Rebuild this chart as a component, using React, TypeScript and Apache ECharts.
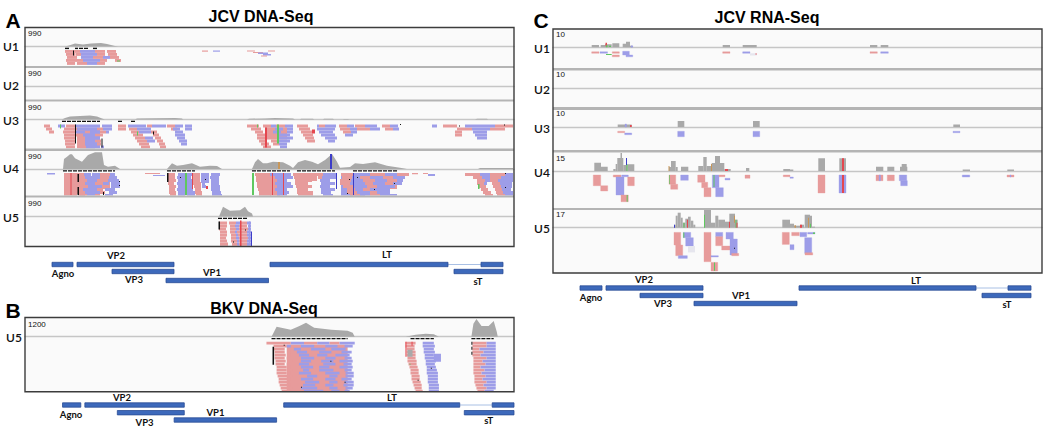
import React, { useEffect, useRef } from "react";
import * as echarts from "echarts";

// ---- read colours: index used as last element of each mark
const P = 0, B = 1, K = 2, G = 3, R = 4, W = 5, Y = 6, O = 7, D = 8;
const COLORS = ["#e79b9b", "#9d9de8", "#111111", "#5fc85f", "#e4474f", "#e6e6ee", "#a9a9a9", "#c8975a", "#3c3cc8"];

// ---- Panel A, JCV DNA-Seq. x = position along the genome, y = coverage / pile-up depth
const aU1Cov = [[40, 0], [44, 1], [50, 3], [58, 2], [66, 3], [76, 3.5], [82, 2.5], [86, 1.5], [90, 0.5], [93, 0]];
const aU1Dash = [[40, 44], [50, 53], [54, 63], [68, 73]];
const aU1Pink = [
  [3.5, 40, 55, 70, 80, 82, 91], [6.5, 41, 50, 50.5, 56, 72, 80, 83, 92], [9.5, 42, 52, 68, 78, 85, 94],
  [12.5, 41, 58, 75, 82, 90, 96], [15.5, 42, 50, 52, 62, 72, 80],
];
const aU1Blue = [[3.5, 55, 70], [6.5, 56, 72], [9.5, 56, 68, 78, 85], [12.5, 58, 75], [15.5, 62, 72]];
const aU1Marks = [
  [48, 49, 4, 9, K], [92, 95, 14, 15, G], [177, 183, 4, 5.2, P], [188, 195, 4, 5.2, B], [222, 230, 4, 5, P],
  [228, 238, 5.5, 6.5, P], [233, 243, 6, 7.5, B], [238, 246, 7.5, 9, B], [236, 242, 9, 10, P], [243, 250, 4, 5, P],
];

const aU3Cov = [
  [37, 0], [40, 1.5], [45, 3], [55, 3.5], [65, 4], [72, 3], [77, 1], [80, 0], [110, 0], [112, 1], [150, 1.5], [157, 1], [158, 0],
  [222, 0], [224, 0.8], [240, 1], [250, 1.5], [268, 1], [270, 0], [275, 0], [276, 0.7], [288, 0.7], [289, 0], [298, 0], [299, 0.8],
  [308, 0.8], [309, 0], [318, 0], [319, 0.5], [323, 0.5], [324, 0], [450, 0], [452, 0.8], [462, 0.8], [463, 0],
];
const aU3Dash = [[37, 75], [93, 97], [106, 110]];
const aU3Fill = [[52, 60, 8, 29, P], [60, 75, 8, 29, B], [240, 262, 8, 20, P]];
const aU3Pink = [
  [5, 19, 25, 41, 50, 93, 101, 122, 127, 142, 150, 222, 234, 238, 246, 251, 260, 272, 283, 294, 300, 314, 322, 330, 340, 357, 365, 418, 432, 470, 488],
  [8, 21, 27, 39, 52, 72, 78, 93, 101, 104, 112, 146, 152, 226, 236, 240, 250, 258, 262, 274, 285, 315, 325, 332, 345, 360, 368, 432, 447, 465, 480],
  [11, 24, 29, 38, 50, 60, 65, 75, 81, 106, 114, 126, 132, 230, 238, 242, 248, 256, 262, 276, 287, 318, 326, 430, 437],
  [14, 39, 52, 53, 58, 70, 78, 108, 118, 128, 134, 232, 240, 246, 252, 278, 288, 430, 437],
  [17, 39, 51, 53, 60, 110, 120, 130, 136, 232, 242, 280, 289],
  [20, 40, 50, 53, 60, 70, 76, 112, 122, 132, 138, 234, 241, 246, 254, 282, 290],
  [23, 40, 50, 55, 60, 72, 76, 114, 124, 134, 140, 236, 244, 248, 254],
  [26, 41, 50, 55, 61, 116, 125, 135, 141, 238, 246],
];
const aU3Blue = [
  [5, 33, 40, 50, 75, 77, 87, 103, 121, 127, 141, 150, 158, 160, 167, 246, 251, 260, 268, 292, 294, 300, 311, 322, 329, 340, 352, 365, 373, 407, 412, 440, 470],
  [8, 52, 72, 78, 87, 112, 126, 148, 155, 160, 167, 250, 258, 262, 268, 292, 310, 325, 332, 345, 355, 368, 374, 447, 465],
  [11, 50, 60, 65, 75, 81, 84, 114, 126, 150, 158, 248, 256, 262, 268, 294, 308, 326, 332, 448, 462],
  [14, 58, 70, 150, 160, 252, 265, 296, 310, 320, 328, 450, 462],
  [17, 60, 75, 120, 128, 152, 160, 252, 268, 300, 312, 452, 462],
  [20, 60, 70, 122, 130, 154, 162, 254, 265, 303, 310],
  [23, 60, 72, 156, 162, 254, 262],
  [26, 61, 70, 76, 79, 255, 262],
];
const aU3Marks = [
  [50, 51, 5, 24, K], [76.5, 77.5, 19, 28, K], [35, 36, 5, 9, G], [240, 242, 8, 28, R], [252, 254, 5, 24, G], [375, 376, 4.5, 5.5, K],
  [434, 435, 6, 7, K], [479, 480, 5, 6, K], [232, 233, 5, 8, G], [112, 113, 12, 16, G], [128, 129, 12, 15, K], [287, 290, 10, 14, R],
];

const aU4Cov = [
  [38, 0], [39, 10], [42, 12.3], [45, 14.7], [47, 14.7], [50, 10.7], [57, 7.3], [63, 14], [70, 16.7], [77, 16.7], [79, 4], [83, 2.3], [90, 3.3], [95, 0],
  [142, 0], [147, 5.7], [152, 3.3], [158, 4], [167, 5.7], [175, 2.3], [185, 3.3], [192, 3], [197, 0],
  [227, 0], [230, 6.7], [233, 10], [238, 5.7], [242, 5.7], [248, 7.3], [258, 6.7], [265, 3.3], [268, 1], [273, 6.7], [280, 9], [287, 7.3],
  [293, 4.7], [300, 9], [307, 15], [312, 7.3], [315, 1.3], [325, 2], [330, 5.7], [338, 5], [350, 6.7], [362, 3.3], [375, 1.3], [382, 0],
  [453, 0], [455, 1], [488, 1],
];
const aU4Dash = [[38, 90], [142, 170], [227, 265], [272, 310], [328, 372]];
const aU4Fill = [
  [53, 60, 4, 27, P], [75, 85, 4, 20, P], [176, 184, 4, 14, B], [245, 255, 4, 27, P], [285, 292, 4, 12, P],
  [316, 340, 4, 27, B], [340, 372, 4, 20, P],
];
const aU4Pink = [
  [4, 39, 53, 54, 59, 75, 85, 143, 150, 167, 175, 230, 245, 268, 285, 292, 298, 316, 328, 345, 360, 372, 384, 440, 455, 465, 480],
  [7, 39, 53, 55, 60, 76, 83, 143, 150, 167, 175, 231, 247, 269, 286, 293, 297, 317, 327, 335, 345, 358, 368, 448, 457, 465, 476],
  [10, 39, 53, 56, 62, 72, 80, 143, 151, 168, 175, 231, 248, 270, 287, 315, 326, 338, 350, 362, 372, 452, 460, 465, 473],
  [13, 39, 53, 70, 76, 143, 149, 168, 176, 232, 246, 270, 283, 315, 325, 340, 348, 360, 368, 452, 459, 467, 475],
  [16, 39, 53, 56, 63, 77, 82, 144, 151, 169, 176, 232, 248, 271, 287, 318, 328, 342, 352, 453, 461, 468, 476],
  [19, 39, 53, 72, 78, 144, 150, 170, 176, 233, 246, 272, 283, 322, 330, 338, 345, 456, 463, 470, 477],
  [22, 39, 53, 55, 60, 75, 80, 144, 151, 170, 177, 234, 248, 272, 288, 322, 332, 345, 352, 458, 466, 471, 478],
  [25, 39, 52, 55, 62, 70, 75, 145, 151, 171, 177, 234, 246, 273, 288, 325, 335, 345, 355, 460, 468, 472, 480],
];
const aU4Blue = [
  [4, 59, 66, 67, 75, 85, 90, 153, 160, 162, 167, 176, 183, 186, 195, 245, 266, 298, 312, 328, 345, 360, 372, 455, 465, 480, 488],
  [7, 60, 75, 84, 92, 152, 160, 162, 166, 176, 181, 185, 194, 250, 268, 297, 312, 328, 335, 345, 358, 368, 380, 457, 465, 476, 488],
  [10, 62, 72, 83, 94, 153, 160, 162, 167, 176, 180, 186, 194, 252, 262, 295, 305, 326, 338, 350, 362, 372, 378, 460, 465, 473, 488],
  [13, 60, 70, 78, 84, 86, 95, 152, 160, 162, 168, 177, 180, 186, 194, 250, 266, 296, 310, 328, 340, 348, 360, 368, 377, 459, 462, 475, 487],
  [16, 63, 77, 86, 95, 153, 160, 162, 168, 177, 181, 186, 195, 252, 268, 295, 305, 328, 342, 352, 370, 476, 487],
  [19, 58, 72, 80, 90, 152, 160, 162, 168, 186, 195, 250, 262, 296, 310, 330, 338, 345, 365, 477, 486],
  [22, 60, 75, 84, 92, 153, 160, 162, 170, 187, 196, 252, 264, 296, 306, 332, 345, 352, 365, 478, 488],
  [25, 62, 70, 80, 88, 153, 160, 162, 170, 187, 197, 252, 262, 298, 308, 335, 345, 355, 372, 480, 488],
];
const aU4Marks = [
  [22, 30, 4, 5.5, B], [120, 135, 4, 5, P], [128, 140, 6, 7, B], [52.5, 54, 5, 13, K], [52.5, 54, 18, 26, K], [45.5, 46.5, 4, 26, R],
  [78, 79, 23, 26, K], [94, 95, 12, 13, K], [94, 95, 16, 17, K], [142, 143.5, 4, 13, K], [160, 162, 4, 26, G], [167, 168, 4, 20, R],
  [180, 181, 10, 11, K], [155, 156, 8, 9, K], [181, 183, 17, 20, R], [227, 229, 4, 26, G], [247, 248, 4, 26, R], [258, 259, 4, 26, R],
  [311, 312, 4, 20, D], [324, 325, 10, 11, K], [332, 333, 8, 9, K], [322, 323, 24, 25, K], [349, 350, 20, 21, K], [369, 370, 14, 15, K],
  [328, 329, 4, 26, D], [387, 393, 4, 5.2, P], [398, 403, 4, 5, P], [403, 410, 5, 7, B], [480, 481, 4, 5, K], [480, 481, 18, 19, K],
  [453, 454.5, 15, 20, G], [305, 307, -15, 0, D], [253, 255, -7, 0, O],
];

const aU5Cov = [[194, 0], [198, 9.7], [205, 5.7], [215, 6.3], [220, 9.7], [223, 5.3], [227, 3], [228, 0]];
const aU5Dash = [[193, 222]];
const aU5Pink = [
  [5, 194, 202, 204, 211, 216, 222], [8, 194, 202, 205, 210, 214, 222], [11, 194, 201, 205, 211, 214, 223], [14, 195, 202, 205, 210, 212, 222],
  [17, 195, 202, 206, 211, 213, 222], [20, 195, 201, 206, 211, 214, 223], [23, 195, 202, 206, 212, 214, 222], [26, 195, 203, 207, 212, 214, 222], [29, 195, 203, 207, 213, 215, 222],
];
const aU5Blue = [
  [5, 211, 216, 222, 226], [8, 210, 214, 223, 226], [11, 211, 214, 223, 226], [14, 210, 212, 222, 226], [17, 211, 213, 222, 226],
  [20, 211, 214, 223, 227], [23, 212, 214, 222, 227], [26, 212, 214, 222, 227], [29, 213, 215, 222, 227],
];
const aU5Marks = [
  [193.5, 195, 5, 13, K], [224, 225, 5, 28, B], [226, 227, 15, 29.5, D], [215, 216.5, 4, 29.5, R], [220, 221, 13, 14, K], [208, 209, 25, 26, K],
];

// ---- Panel B, BKV DNA-Seq
const bU5Cov = [
  [243, 0], [248, 10], [262, 7], [270, 10.5], [277, 14], [285, 9], [302, 7], [318, 6], [323, 4], [325, 0],
  [375, 0], [385, 2], [395, 3], [403, 2.5], [408, 0], [440, 0], [442, 13], [445, 17.7], [450, 10.7], [457, 10.7], [462, 15.7], [465, 5], [466, 0],
];
const bU5Dash = [[243, 318], [380, 403], [440, 462]];
const bU5Fill = [[258, 318, 8, 55, P]];
const bU5Pink = [
  [5, 238, 262, 275, 288, 300, 310, 375, 385, 441, 455], [8, 245, 258, 262, 272, 285, 296, 308, 315, 375, 384, 441, 455],
  [11, 245, 256, 260, 265, 272, 282, 296, 302, 376, 384, 441, 448], [14, 246, 256, 262, 268, 278, 290, 302, 312, 376, 385, 441, 452],
  [17, 246, 257, 262, 270, 280, 288, 298, 306, 376, 385, 441, 449], [20, 246, 256, 258, 272, 285, 296, 306, 315, 377, 385, 442, 455],
  [23, 247, 257, 264, 272, 282, 292, 304, 310, 377, 386, 442, 451], [26, 247, 256, 258, 270, 280, 294, 306, 314, 378, 386, 442, 454],
  [29, 248, 258, 262, 272, 284, 290, 300, 310, 379, 387, 442, 449], [32, 248, 258, 264, 274, 280, 290, 304, 315, 380, 388, 442, 453],
  [35, 248, 258, 262, 270, 282, 296, 310, 316, 380, 388, 442, 450], [38, 249, 259, 264, 278, 288, 300, 308, 316, 381, 389, 443, 454],
  [41, 250, 259, 262, 272, 284, 296, 306, 312, 381, 389, 443, 451], [44, 250, 260, 266, 276, 290, 300, 308, 315, 382, 390, 443, 455],
  [47, 251, 260, 262, 274, 286, 296, 304, 314, 383, 391, 444, 452], [50, 252, 261, 264, 272, 288, 300, 308, 316, 384, 391, 445, 455],
  [53, 253, 262, 268, 275, 294, 302, 310, 315, 385, 392, 446, 453],
];
const bU5Blue = [
  [5, 262, 275, 288, 300, 310, 325, 392, 403, 455, 464], [8, 258, 262, 272, 285, 296, 308, 315, 323, 392, 404, 455, 464],
  [11, 265, 272, 282, 296, 302, 316, 393, 403, 448, 464], [14, 268, 278, 290, 302, 312, 322, 393, 404, 452, 464],
  [17, 270, 280, 288, 298, 306, 320, 394, 403, 449, 464], [20, 272, 285, 296, 306, 315, 322, 394, 405, 455, 464],
  [23, 272, 282, 292, 304, 310, 323, 395, 405, 451, 464], [26, 270, 280, 294, 306, 314, 322, 395, 404, 454, 464],
  [29, 272, 284, 290, 300, 310, 323, 396, 405, 449, 464], [32, 274, 280, 290, 304, 315, 322, 396, 406, 453, 464],
  [35, 270, 282, 296, 310, 316, 324, 396, 407, 450, 464], [38, 278, 288, 300, 308, 316, 324, 397, 407, 454, 464],
  [41, 272, 284, 296, 306, 312, 322, 397, 407, 451, 464], [44, 276, 290, 300, 308, 315, 324, 397, 407, 455, 464],
  [47, 274, 286, 296, 304, 314, 324, 398, 408, 452, 464], [50, 272, 288, 300, 308, 316, 323, 398, 408, 455, 464],
  [53, 275, 294, 302, 310, 315, 320, 398, 408, 453, 462],
];
const bU5Marks = [
  [244, 245.5, 10, 28, K], [377, 382, 13, 20, Y], [379, 380, 27, 28, G], [387, 388, 43, 44, K], [400, 401, 31, 32, K], [403, 410, 17, 25, B],
  [375, 376, 5, 20, R], [440, 441, 5, 8, K], [440, 441, 10, 13, K], [440, 441, 15, 18, K], [255, 256, 8, 9, K], [301, 302, 24, 25, K], [315, 316, 45, 46, K],
  [272, 273, 50, 51, K], [381, 382, 5, 9, R],
];

// ---- Panel C, JCV RNA-Seq: coverage [from, to, height], reads [from, to, top, bottom, colour]
const cU1Cov = [
  [38.7, 46, 2.3], [47.7, 52, 2.3], [52, 58.7, 3], [59.3, 66.3, 4], [69.7, 73, 3.5], [73, 77, 5.5], [77, 79.7, 1.5],
  [169.7, 177, 2.3], [189.7, 203.7, 2.3], [317, 324.3, 2.3], [327.7, 335.3, 2.3],
];
const cU1Marks = [
  [52.5, 54, -4.5, -1, R], [53, 54.5, -2, 0, G], [56, 58, -1.5, -0.3, G], [78, 79.7, -1.5, 0, B],
  [38.7, 46, 4.5, 6, P], [47, 54.5, 4.5, 6, B], [53, 58.7, 6.7, 7.7, G], [59.3, 66.3, 4.5, 6, P], [59.3, 66.3, 7.7, 9.5, P],
  [69.7, 76.3, 4, 7.7, B], [73, 79.7, 7.7, 9.5, B], [169.7, 177, 4.5, 6, P], [189.7, 197, 4.5, 6, B], [197, 203.7, 6, 8.3, W],
  [202.5, 203.7, 6.3, 7.3, R], [317, 324.3, 4.5, 6, P], [327.7, 335.3, 4.5, 6, B],
];
const cU3Cov = [[64.7, 78.7, 2.5], [124.7, 131.3, 6], [200, 206.7, 6], [400.3, 407, 2.5]];
const cU3Marks = [
  [72, 73.5, -3, 0, B], [77, 78.7, -2, 0, R], [64.7, 71.7, 4.3, 5.7, P], [71.7, 78.7, 6, 7.7, B], [124.7, 131.3, 4.3, 9.7, B],
  [200, 206.7, 4.3, 9.7, B], [400, 407, 4.3, 5.7, B],
];
const cU4Cov = [
  [41.3, 48, 8.3], [48, 54.7, 4.3], [60.3, 62.7, 2], [62.7, 64.3, 7], [64.3, 70.3, 13], [67.5, 69, 18], [70.3, 74.7, 6], [74.7, 81.3, 6.7],
  [116, 118, 4], [118, 122.7, 10], [122.7, 124.7, 4], [128, 135.3, 4.3], [145.3, 150.3, 5], [150.3, 153.7, 14], [153.7, 158.7, 5], [158.7, 162, 8],
  [162, 167, 15], [167, 171.3, 8], [171.3, 177.7, 2], [193, 196.3, 3], [230.3, 237, 2], [237, 240.3, 1.5], [265.3, 272, 12.7], [286.3, 293, 12.7],
  [323, 330.3, 4.3], [334.3, 341.3, 4.3], [347, 354.3, 4.3], [348.7, 353.7, 7], [409.7, 417, 1.5], [454.3, 461, 1.5],
];
const cU4Marks = [
  [73.5, 74.5, -7, 0, G], [73, 74, -13, -6, D], [115.5, 116.5, -5, 0, O], [289, 291, -12.7, 0, R], [158, 159, -7, 0, O], [172, 175, -2, 0, R],
  [40.3, 47.7, 4, 14.7, P], [47.7, 54.7, 14.7, 20, P], [60.3, 68, 4, 6, P], [63, 71, 6, 24, B], [68, 75.3, 24, 30.7, P], [73.7, 74.7, 24, 30.7, G],
  [74.7, 81.3, 6, 14.7, P], [68.7, 75.3, 4, 5.7, B], [116, 122.7, 4, 13.3, P], [116, 116.7, 4, 13, G], [117.7, 124.7, 13.3, 18.3, P], [127.7, 135.3, 4, 9.3, B],
  [144.7, 152, 4, 11.3, P], [148.7, 154.7, 11.3, 16.7, P], [151, 158, 16.7, 25.7, P], [159.3, 166, 4, 16.7, B], [162.7, 170.3, 16.7, 25.7, B],
  [160.5, 161.5, 4, 16, G], [166, 172, 4, 5.7, P], [172, 177, 7.3, 9, B], [192, 197, 4, 7.3, P], [230.3, 237, 4, 5.7, P], [237, 240.3, 6, 7.3, B],
  [265, 272, 4, 22, P], [286, 293, 4, 22, B], [289, 291, 4, 22, R], [323, 330, 4, 9.7, P], [326, 327.5, 4, 9.7, B], [334.3, 341.3, 4, 9.7, P],
  [346.3, 353.7, 4, 9.7, B], [347.7, 354.3, 9.7, 14.7, B], [409.3, 416.7, 4, 6, B], [454, 461, 4, 6, P], [457, 458, 4, 6, B],
];
const cU5Cov = [
  [121, 122.7, 3], [122.7, 124.7, 12], [124.7, 127.7, 15], [127.7, 129.7, 10], [129.7, 132.3, 5], [132.3, 135, 9], [135, 137.7, 11], [137.7, 140.3, 7], [140.3, 142.3, 3],
  [151, 158, 18], [158, 162.3, 5], [162.3, 165.3, 12], [165.3, 172, 8], [172, 176.3, 6], [176.3, 182, 14], [182, 184.7, 8],
  [229.3, 237, 8], [237, 241, 4], [241, 247, 2], [247, 251, 3], [251.7, 257, 13], [257, 259, 12], [259, 262, 1],
];
const cU5Marks = [
  [151, 152, -13, 0, G], [121, 122, -3, 0, D], [130.5, 131.5, -5, 0, G], [134, 135, -8, 0, R], [176, 177, -6, 0, R], [182.5, 183.5, -8, 0, G],
  [183.5, 184.5, -5, 0, R], [181, 182, -12, -5, O], [241.5, 243, -2.5, 0, O], [247, 249, -3, 0, R], [257, 258, -4, 0, G], [255, 256, -10, 0, O],
  [121, 127.7, 4.7, 17.3, P], [122.7, 129.7, 17.3, 28, P], [125.3, 134.3, 28, 30.7, B], [130.3, 137.7, 4.7, 10, B], [132.7, 140.3, 10, 18.3, B],
  [135, 142, 18.3, 24.7, W], [130.3, 131.3, 4.7, 10, G], [151, 158, 4.7, 34, P], [158, 164.7, 34.7, 43.3, P], [161, 162, 34.7, 43, G],
  [158, 165.3, 28, 29.3, B], [162.7, 169.7, 4.7, 9, B], [162.7, 169.7, 9, 18, P], [168.7, 177, 18.3, 22.3, P], [173, 180.3, 4.7, 11.3, B],
  [177, 184.3, 11.3, 27.3, B], [178.7, 185.7, 25.7, 28, P], [181, 182, 20, 21, K], [229.3, 236.3, 4.7, 16.7, P], [237, 241, 17, 22, B],
  [238.7, 246.3, 4.7, 8, P], [247, 253.7, 4.7, 9, B], [251.7, 258.7, 10, 25.7, B], [252, 259.7, 25, 27.3, P], [254.7, 262, 4.7, 6.3, B], [260, 262, 4.7, 6.3, G],
];

// ---- genes: [from, to, lane]
const geneA = [[27, 48, 0], [52, 149, 0], [87, 149, 7], [141, 243.5, 16], [245, 423, 0], [456, 478, 0], [429, 478, 7]];
const geneB = [[37, 55, 0], [59, 157, 0], [91, 157, 7.7], [147, 248, 15], [255, 428.5, 0], [460.5, 482, 0], [433, 482, 7.7]];
const geneC = [[27, 49, 0], [53, 150, 0], [87, 150, 7.5], [141, 244, 15.5], [246, 423, 0], [455, 478, 0], [429, 478, 7.5]];
const intronA = [[423, 456, 0]];
const intronB = [[428.5, 460.5, 0]];
const intronC = [[423, 455, 0]];

const geneLabels = ["VP2", "Agno", "VP3", "VP1", "LT", "sT"];
const geneLabelA = [[116, 255], [63, 273.5], [134, 279], [212, 272], [387, 254], [478, 281.5]];
const geneLabelB = [[122, 397.5], [71, 414], [144.6, 422], [215.5, 412], [392, 397], [488.7, 420.7]];
const geneLabelC = [[644, 279], [591, 297], [663, 303], [741, 295], [916, 280], [1007, 304]];

const titles = [["JCV DNA-Seq", 261, 16], ["BKV DNA-Seq", 264, 308], ["JCV RNA-Seq", 767, 17]];
const letters = [["A", 13, 20], ["B", 13, 310], ["C", 541, 20]];

const rowsToMarks = (rows, kind) =>
  rows.flatMap(([d, ...xs]) => {
    const out = [];
    for (let i = 0; i < xs.length; i += 2) out.push([xs[i], xs[i + 1], d, d + 2.9, kind]);
    return out;
  });

const panelA = { left: 25, width: 489, span: 489, top: 27.5, bottom: 246.5 };
const panelB = { left: 25, width: 489, span: 482, top: 317.5, bottom: 391.7 };
const panelC = { left: 553, width: 489, span: 489, top: 29, bottom: 273 };

const tracks = [
  { p: panelA, name: "U1", max: "990", top: 28, bottom: 66, c: 46.5, ny: 33, uy: 46, ux: 11, cov: aU1Cov, dash: aU1Dash, marks: [...rowsToMarks(aU1Pink, P), ...rowsToMarks(aU1Blue, B), ...aU1Marks] },
  { p: panelA, name: "U2", max: "990", top: 68, bottom: 99.5, c: 86.5, ny: 73, uy: 85, ux: 11, marks: [] },
  { p: panelA, name: "U3", max: "990", top: 101.5, bottom: 148.5, c: 119.5, ny: 107, uy: 120, ux: 11, cov: aU3Cov, dash: aU3Dash, marks: [...aU3Fill, ...rowsToMarks(aU3Pink, P), ...rowsToMarks(aU3Blue, B), ...aU3Marks] },
  { p: panelA, name: "U4", max: "990", top: 151, bottom: 195.5, c: 169, ny: 156, uy: 168, ux: 11, cov: aU4Cov, dash: aU4Dash, marks: [...aU4Fill, ...rowsToMarks(aU4Pink, P), ...rowsToMarks(aU4Blue, B), ...aU4Marks] },
  { p: panelA, name: "U5", max: "990", top: 197.5, bottom: 246, c: 216.5, ny: 203, uy: 217, ux: 11, cov: aU5Cov, dash: aU5Dash, marks: [...rowsToMarks(aU5Pink, P), ...rowsToMarks(aU5Blue, B), ...aU5Marks] },
  { p: panelB, name: "U5", max: "1200", top: 318, bottom: 391.5, c: 336.7, ny: 324, uy: 337, ux: 14, cov: bU5Cov, dash: bU5Dash, marks: [...bU5Fill, ...rowsToMarks(bU5Pink, P), ...rowsToMarks(bU5Blue, B), ...bU5Marks] },
  { p: panelC, name: "U1", max: "10", top: 29.5, bottom: 68, c: 47.3, ny: 34, uy: 48, ux: 542, bars: cU1Cov, marks: cU1Marks, halo: true },
  { p: panelC, name: "U2", max: "10", top: 70.5, bottom: 107, c: 88, ny: 74, uy: 89, ux: 542, marks: [], halo: true },
  { p: panelC, name: "U3", max: "10", top: 110, bottom: 150, c: 127, ny: 113, uy: 128, ux: 542, bars: cU3Cov, marks: cU3Marks, halo: true },
  { p: panelC, name: "U4", max: "15", top: 152.5, bottom: 208, c: 171, ny: 158, uy: 172, ux: 542, bars: cU4Cov, marks: cU4Marks, halo: true },
  { p: panelC, name: "U5", max: "17", top: 210, bottom: 273, c: 227.7, ny: 214, uy: 228, ux: 542, bars: cU5Cov, marks: cU5Marks, halo: true },
];

const geneTracks = [
  { p: panelA, top: 258, h: 28, lane0: 264.5, genes: geneA, introns: intronA, labels: geneLabelA },
  { p: panelB, top: 400, h: 26, lane0: 405, genes: geneB, introns: intronB, labels: geneLabelB },
  { p: panelC, top: 282, h: 28, lane0: 288, genes: geneC, introns: intronC, labels: geneLabelC },
];

const readItem = (halo) => (_params, api) => {
  const kind = api.value(4);
  const a = api.coord([api.value(0), -api.value(2)]);
  const b = api.coord([api.value(1), -api.value(3)]);
  const style: any = { fill: COLORS[kind] };
  if (halo && (kind === P || kind === B)) {
    style.stroke = COLORS[kind];
    style.strokeOpacity = 0.35;
    style.lineWidth = 1;
  }
  return { type: "rect", shape: { x: a[0], y: a[1], width: b[0] - a[0], height: b[1] - a[1] }, style };
};
const barItem = (_params, api) => {
  const a = api.coord([api.value(0), api.value(2)]);
  const b = api.coord([api.value(1), 0]);
  return { type: "rect", shape: { x: a[0], y: a[1], width: b[0] - a[0], height: b[1] - a[1] }, style: { fill: COLORS[Y] } };
};
const dashItem = (_params, api) => {
  const a = api.coord([api.value(0), -1.9]);
  const b = api.coord([api.value(1), -1.9]);
  return {
    type: "line",
    shape: { x1: a[0], y1: a[1], x2: b[0], y2: b[1] },
    style: { stroke: "#111111", lineWidth: 1.4, lineDash: [4, 1] },
  };
};
const geneItem = (_params, api) => {
  const a = api.coord([api.value(0), api.value(2)]);
  const b = api.coord([api.value(1), api.value(2)]);
  return {
    type: "rect",
    shape: { x: a[0], y: a[1] - 2.2, width: b[0] - a[0], height: 4.4 },
    style: { fill: "#3d69bb", stroke: "#2b4d95", lineWidth: 0.8 },
  };
};
const intronItem = (_params, api) => {
  const a = api.coord([api.value(0), api.value(2)]);
  const b = api.coord([api.value(1), api.value(2)]);
  return { type: "line", shape: { x1: a[0], y1: a[1], x2: b[0], y2: b[1] }, style: { stroke: "#a9c0e4", lineWidth: 1 } };
};

const txt = (text, x, y, font, fill = "#111111", align = "center") => ({
  type: "text",
  x,
  y,
  z: 30,
  silent: true,
  style: { text, font, fill, align, verticalAlign: "middle", textAlign: align, textVerticalAlign: "middle" },
});

function buildOption() {
  const grid: any[] = [];
  const xAxis: any[] = [];
  const yAxis: any[] = [];
  const series: any[] = [];
  const graphic: any[] = [];

  for (const p of [panelA, panelB, panelC]) {
    graphic.push({ type: "rect", z: 30, silent: true, shape: { x: p.left, y: p.top, width: p.width, height: p.bottom - p.top }, style: { fill: "none", stroke: "#3c3c3c", lineWidth: 1.4 } });
  }
  tracks.forEach((t, k) => {
    const next = tracks[k + 1];
    if (next && next.p === t.p) {
      graphic.push({ type: "rect", z: 20, silent: true, shape: { x: t.p.left, y: t.bottom, width: t.p.width, height: next.top - t.bottom }, style: { fill: "#b4b4b4" } });
    }
  });

  tracks.forEach((t) => {
    const i = grid.length;
    grid.push({
      left: t.p.left, width: t.p.width, top: t.top, height: t.bottom - t.top,
      show: true, backgroundColor: "#fafafa", borderWidth: 0, containLabel: false,
    });
    xAxis.push({
      type: "value", gridIndex: i, min: 0, max: t.p.span, silent: true,
      axisLine: { show: true, onZero: true, lineStyle: { color: "#c6c6c6", width: 1.4 } },
      axisTick: { show: false }, axisLabel: { show: false }, splitLine: { show: false },
    });
    yAxis.push({
      type: "value", gridIndex: i, show: false, min: t.c - t.bottom, max: t.c - t.top, splitLine: { show: false },
    });
    if (t.cov) {
      series.push({
        type: "line", xAxisIndex: i, yAxisIndex: i, data: t.cov, showSymbol: false, silent: true, z: 2,
        lineStyle: { width: 0 }, itemStyle: { color: COLORS[Y] }, areaStyle: { color: COLORS[Y], opacity: 1 },
      });
    }
    if (t.bars) {
      series.push({
        type: "custom", xAxisIndex: i, yAxisIndex: i, data: t.bars, renderItem: barItem, silent: true, clip: true, z: 2,
        encode: { x: [0, 1], y: [2] },
      });
    }
    series.push({
      type: "custom", xAxisIndex: i, yAxisIndex: i, data: t.marks, renderItem: readItem(!!t.halo), silent: true, clip: true, z: 3,
      encode: { x: [0, 1], y: [2, 3] },
    });
    if (t.dash) {
      series.push({
        type: "custom", xAxisIndex: i, yAxisIndex: i, data: t.dash, renderItem: dashItem, silent: true, clip: true, z: 4,
        encode: { x: [0, 1] },
      });
    }
    graphic.push(txt(t.max, t.p.left + 3, t.ny, "8px 'Liberation Sans'", "#111111", "left"));
    graphic.push(txt(t.name, t.ux, t.uy, "600 12px Lato"));
  });

  geneTracks.forEach((g) => {
    const i = grid.length;
    grid.push({ left: g.p.left, width: g.p.width, top: g.top, height: g.h, show: false });
    xAxis.push({ type: "value", gridIndex: i, show: false, min: 0, max: g.p.span });
    yAxis.push({ type: "value", gridIndex: i, show: false, inverse: true, min: g.top - g.lane0, max: g.top + g.h - g.lane0 });
    series.push({ type: "custom", xAxisIndex: i, yAxisIndex: i, data: g.introns, renderItem: intronItem, silent: true, z: 2, encode: { x: [0, 1], y: [2] } });
    series.push({ type: "custom", xAxisIndex: i, yAxisIndex: i, data: g.genes, renderItem: geneItem, silent: true, z: 3, encode: { x: [0, 1], y: [2] } });
    geneLabels.forEach((name, k) => graphic.push(txt(name, g.labels[k][0], g.labels[k][1], "bold 9.5px Lato")));
  });

  titles.forEach(([s, x, y]) => graphic.push(txt(s, x, y, "bold 16px 'Liberation Sans'", "#000000")));
  letters.forEach(([s, x, y]) => graphic.push(txt(s, x, y, "bold 21px 'Liberation Sans'", "#000000")));

  return { animation: false, backgroundColor: "#ffffff", grid, xAxis, yAxis, series, graphic };
}

export default function App() {
  const ref = useRef<HTMLDivElement>(null);
  useEffect(() => {
    document.body.style.margin = "0";
    const chart = echarts.init(ref.current, undefined, { renderer: "svg" });
    chart.setOption(buildOption());
    return () => chart.dispose();
  }, []);
  return <div ref={ref} style={{ width: 1050, height: 434 }} />;
}
